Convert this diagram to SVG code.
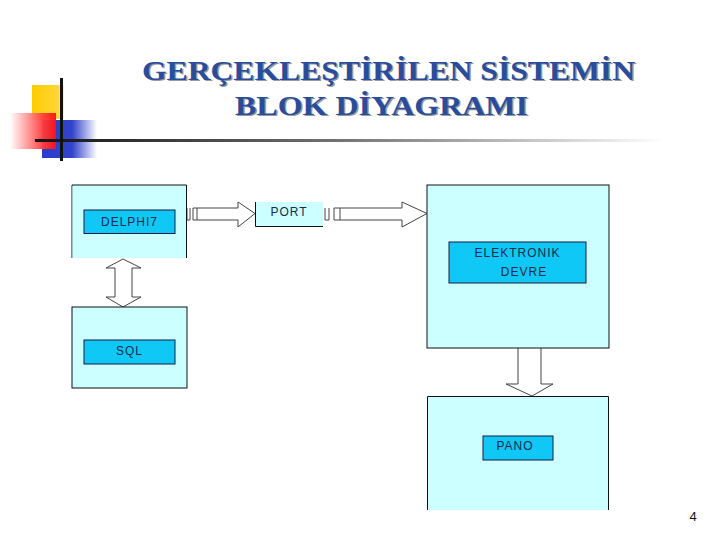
<svg xmlns="http://www.w3.org/2000/svg" width="720" height="540" viewBox="0 0 720 540">
<defs>
<style>
.title{font-family:"Liberation Serif","Times New Roman",serif;font-weight:bold;font-size:28px;fill:#2a4c9c}
.shadow{font-family:"Liberation Serif","Times New Roman",serif;font-weight:bold;font-size:28px;fill:#9a9a9a}
.outer{fill:#ccffff;stroke:#111;stroke-width:1}
.inner{fill:#0fc8f5;stroke:#1a1a40;stroke-width:1}
.lbl{font-family:"Liberation Sans",Arial,sans-serif;font-size:12px;fill:#1a2a50;letter-spacing:1px;text-anchor:middle}
.arrow{fill:#fff;stroke:#444;stroke-width:1}
</style>
<linearGradient id="redg" x1="0" y1="0" x2="1" y2="0">
<stop offset="0" stop-color="#fff"/><stop offset="0.7" stop-color="#ff4040"/><stop offset="1" stop-color="#ff1010"/>
</linearGradient>
<linearGradient id="blueg" x1="0" y1="0" x2="1" y2="0">
<stop offset="0" stop-color="#2a3ccc"/><stop offset="0.55" stop-color="#3344cc"/><stop offset="1" stop-color="#fff"/>
</linearGradient>
<linearGradient id="yelg" x1="0" y1="0" x2="1" y2="0">
<stop offset="0" stop-color="#ffcc00"/><stop offset="0.8" stop-color="#ffd633"/><stop offset="1" stop-color="#fff4cc"/>
</linearGradient>
<linearGradient id="lineg" x1="0" y1="0" x2="1" y2="0">
<stop offset="0" stop-color="#111"/><stop offset="0.5" stop-color="#777"/><stop offset="1" stop-color="#fff"/>
</linearGradient>
</defs>
<rect width="720" height="540" fill="#fff"/>
<g id="decor">
<rect x="32" y="85" width="32" height="34" fill="url(#yelg)"/>
<rect x="42" y="120" width="55" height="38" fill="url(#blueg)"/>
<rect x="10" y="113" width="46" height="36" fill="url(#redg)" opacity="0.95"/>
<rect x="35" y="139" width="630" height="3" fill="url(#lineg)"/>
<rect x="60" y="78" width="3" height="83" fill="#111"/>
</g>
<g id="title">
<text class="shadow" x="390" y="81" text-anchor="middle" textLength="493" lengthAdjust="spacingAndGlyphs">GERÇEKLEŞTİRİLEN SİSTEMİN</text>
<text class="title" x="388.5" y="79.5" text-anchor="middle" textLength="493" lengthAdjust="spacingAndGlyphs">GERÇEKLEŞTİRİLEN SİSTEMİN</text>
<text class="shadow" x="383" y="116" text-anchor="middle" textLength="293" lengthAdjust="spacingAndGlyphs">BLOK DİYAGRAMI</text>
<text class="title" x="381.5" y="114.5" text-anchor="middle" textLength="293" lengthAdjust="spacingAndGlyphs">BLOK DİYAGRAMI</text>
</g>
<g id="connectors">
<path class="arrow" d="M197,208 H238 V202 L255,213.5 L238,227 V220 H197 Z"/>
<path class="arrow" d="M187,208 V220 M190,208 V220 M193,208 V220 M193,208 H197 M193,220 H197 M187,220 H190"/>
<path class="arrow" d="M340,208 H402 V202 L427,213.5 L402,227 V220 H340 Z"/>
<path class="arrow" d="M325,208 V220 M329,208 V220 M334,208 V220 M334,208 H340 M334,220 H340 M325,220 H329"/>
<path class="arrow" d="M123,259 L141,268 H132 V297 H141 L123,307 L106,297 H115 V268 H106 Z"/>
<path class="arrow" d="M518,348 V384 H506 L532,396 L553,384 H541 V348"/>
</g>
<g id="delphi">
<path class="outer" d="M72,258 V185 H186.5 V258"/>
<rect x="72.5" y="186" width="113.5" height="72" fill="#ccffff"/>
<rect class="inner" x="84" y="210" width="91" height="23.5"/>
<text class="lbl" x="129.5" y="226">DELPHI7</text>
</g>
<g id="port">
<rect x="255" y="202" width="68" height="24" fill="#ccffff"/>
<path d="M255.5,202 V226.5 H323" fill="none" stroke="#111"/>
<text class="lbl" x="289" y="216">PORT</text>
</g>
<g id="sql">
<rect class="outer" x="72" y="307" width="115" height="81"/>
<rect class="inner" x="84" y="340" width="91" height="24"/>
<text class="lbl" x="129.5" y="355">SQL</text>
</g>
<g id="elektronik">
<rect class="outer" x="427" y="185" width="182" height="163"/>
<rect class="inner" x="449" y="242" width="137" height="41"/>
<text class="lbl" x="517.5" y="257">ELEKTRONIK</text>
<text class="lbl" x="524" y="276">DEVRE</text>
</g>
<g id="pano">
<rect x="427" y="396" width="182" height="114" fill="#ccffff"/>
<path d="M427.5,510 V396.5 H608.5 V510" fill="none" stroke="#111"/>
<rect class="inner" x="483" y="436" width="70" height="24"/>
<text class="lbl" x="515" y="450">PANO</text>
</g>
<text x="693" y="521" font-family="Liberation Sans,Arial,sans-serif" font-size="13" fill="#111" text-anchor="middle">4</text>
</svg>
